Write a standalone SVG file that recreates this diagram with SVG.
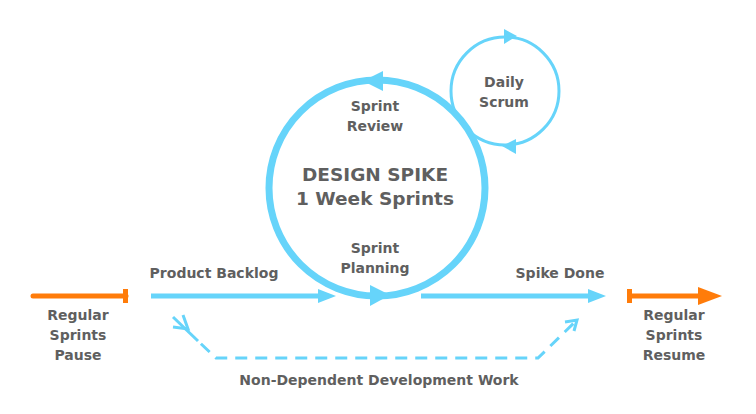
<svg xmlns="http://www.w3.org/2000/svg" width="756" height="414" viewBox="0 0 756 414">
<style>
text{font-family:"DejaVu Sans",Verdana,sans-serif;font-weight:bold;fill:#5f5f5f;text-anchor:middle;font-size:14px}
.big{font-size:18.5px}
.blue{stroke:#66d4fa;fill:none}
.blueF{fill:#66d4fa}
.or{stroke:#ff7c0a;fill:none}
.orF{fill:#ff7c0a}
</style>
<rect width="756" height="414" fill="#fff"/>
<g id="connectors">
<line class="or" x1="33" y1="296" x2="126" y2="296" stroke-width="5" stroke-linecap="round"/>
<rect class="orF" x="123" y="289" width="5" height="14"/>
<line class="blue" x1="151" y1="296" x2="320" y2="296" stroke-width="5"/>
<polygon class="blueF" points="336,296 318,289 318,303"/>
<line class="blue" x1="421" y1="296" x2="590" y2="296" stroke-width="5"/>
<polygon class="blueF" points="606,296 588,289 588,303"/>
<rect class="orF" x="627" y="289" width="5" height="14"/>
<line class="or" x1="630" y1="296" x2="702" y2="296" stroke-width="5"/>
<polygon class="orF" points="722,296 698,287 698,305"/>
<path class="blue" d="M173,317 L198,341" stroke-width="3"/>
<path class="blue" d="M198,341 L216,358 L538,358 L577,320" stroke-width="3" stroke-dasharray="12,8" stroke-dashoffset="-4"/>
<polyline class="blue" points="183,315 188,329 173,327" stroke-width="3"/>
<polyline class="blue" points="565,322 577,320 574,331" stroke-width="3"/>
</g>
<g id="design-spike">
<circle class="blue" cx="377" cy="188" r="108" stroke-width="7"/>
<polygon class="blueF" points="363,81 383,71 383,91"/>
<polygon class="blueF" points="390,295 370,285 370,306"/>
<text class="big" x="375" y="181">DESIGN SPIKE</text>
<text class="big" x="375" y="205">1 Week Sprints</text>
</g>
<g id="sprint-review">
<text x="375" y="111">Sprint</text>
<text x="375" y="131">Review</text>
</g>
<g id="sprint-planning">
<text x="375" y="253">Sprint</text>
<text x="375" y="273">Planning</text>
</g>
<g id="daily-scrum">
<circle class="blue" cx="505" cy="91" r="54" stroke-width="3"/>
<polygon class="blueF" points="517,36 504,29 504,44"/>
<polygon class="blueF" points="502,146 516,139 516,154"/>
<text x="504" y="87">Daily</text>
<text x="504" y="107">Scrum</text>
</g>
<g id="product-backlog"><text x="214" y="278">Product Backlog</text></g>
<g id="spike-done"><text x="560" y="278">Spike Done</text></g>
<g id="pause">
<text x="78" y="320">Regular</text>
<text x="78" y="340">Sprints</text>
<text x="78" y="360">Pause</text>
</g>
<g id="resume">
<text x="674" y="320">Regular</text>
<text x="674" y="340">Sprints</text>
<text x="674" y="360">Resume</text>
</g>
<g id="non-dependent"><text x="379" y="385">Non-Dependent Development Work</text></g>
</svg>
